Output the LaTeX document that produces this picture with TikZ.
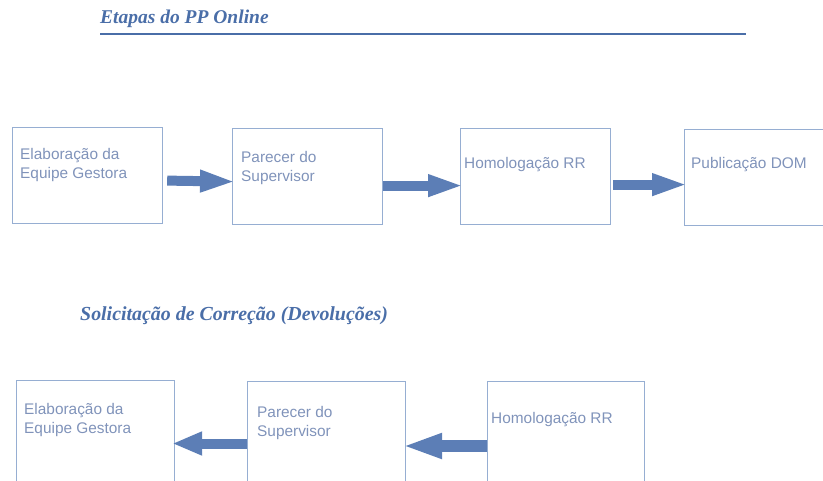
\documentclass[tikz,border=0pt]{standalone}
\usepackage{fontspec}
\setmainfont{Liberation Serif}
\setsansfont{Liberation Sans}
\usetikzlibrary{arrows.meta}

\definecolor{titleblue}{RGB}{74,110,168}
\definecolor{boxblue}{RGB}{150,174,210}
\definecolor{arrowblue}{RGB}{92,126,182}
\definecolor{textblue}{RGB}{128,147,186}

\tikzset{
  stage/.style={draw=boxblue, line width=1.2pt, inner sep=0pt,
    anchor=north west, minimum width=150pt, minimum height=96pt},
  stagetext/.style={anchor=west, inner sep=0pt, align=left, text=textblue,
    font=\sffamily\fontsize{15.4}{19}\selectfont},
  heading/.style={anchor=base west, inner sep=0pt, text=titleblue,
    font=\rmfamily\bfseries\itshape\fontsize{19.5}{22}\selectfont},
  flow/.style={arrowblue, line width=10pt, shorten >=-4pt,
    -{Triangle[length=36pt,width=20pt]}}
}

\begin{document}
\begin{tikzpicture}[x=1pt,y=-1pt]
  \useasboundingbox (0,0) rectangle (823,480);

  % Etapas
  \node[heading] (h1) at (100,23) {Etapas do PP Online};
  \draw[titleblue, line width=1.2pt] (100,34) -- (746,34);

  \node[stage] (e1) at (12,127)  {};
  \node[stage] (s1) at (232,128) {};
  \node[stage] (r1) at (460,128) {};
  \node[stage, minimum width=160pt] (p1) at (684,129) {};

  \node[stagetext] (te1) at ([xshift=8pt,yshift=-38pt]e1.north west) {Elaboração da\\Equipe Gestora};
  \node[stagetext] (ts1) at ([xshift=9pt,yshift=-40pt]s1.north west) {Parecer do\\Supervisor};
  \node[stagetext] (tr1) at ([xshift=4pt,yshift=-37pt]r1.north west) {Homologação RR};
  \node[stagetext] (tp1) at ([xshift=7pt,yshift=-36pt]p1.north west) {Publicação DOM};

  \draw[flow] ([xshift=4pt,yshift=-5pt]e1.east) -- ([yshift=-5pt]s1.west);
  \draw[flow] ([yshift=-9pt]s1.east) -- ([yshift=-9pt]r1.west);
  \draw[flow] ([xshift=2pt,yshift=-8pt]r1.east) -- ([yshift=-7pt]p1.west);

  % Devolucoes
  \node[heading, font=\rmfamily\bfseries\itshape\fontsize{19.9}{22}\selectfont] (h2) at (80,320) {Solicitação de Correção (Devoluções)};

  \node[stage, minimum width=158pt, minimum height=130pt] (e2) at (16,380)  {};
  \node[stage, minimum width=158pt, minimum height=130pt] (s2) at (247,381) {};
  \node[stage, minimum width=157pt, minimum height=130pt] (r2) at (487,381) {};

  \node[stagetext] (te2) at ([xshift=8pt,yshift=-40pt]e2.north west) {Elaboração da\\Equipe Gestora};
  \node[stagetext] (ts2) at ([xshift=10pt,yshift=-42pt]s2.north west) {Parecer do\\Supervisor};
  \node[stagetext] (tr2) at ([xshift=4pt,yshift=-39pt]r2.north west) {Homologação RR};

  \draw[flow, shorten >=-3pt, -{Triangle[length=30pt,width=22pt]}] ([yshift=-62.5pt]s2.north west) -- ([yshift=-63.5pt]e2.north east);
  \draw[flow, line width=12pt, -{Triangle[length=40pt,width=23pt]}] ([yshift=-65pt]r2.north west) -- ([yshift=-65pt]s2.north east);
\end{tikzpicture}
\end{document}
